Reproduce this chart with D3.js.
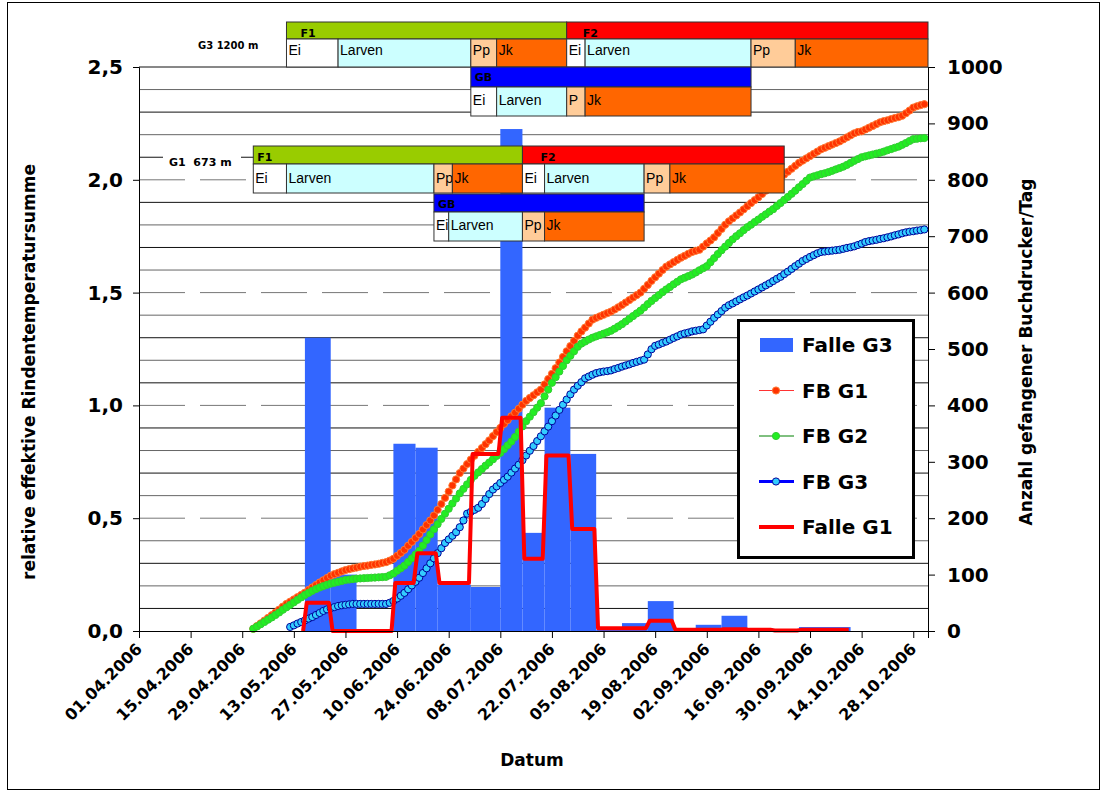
<!DOCTYPE html>
<html>
<head>
<meta charset="utf-8">
<script src="https://cdn.jsdelivr.net/npm/d3@7"></script>
<style>
  body { margin: 0; background: #fff; }
</style>
</head>
<body>
<svg width="1108" height="793"></svg>
<script>
const parseDate = d3.timeParse("%d.%m.%Y");
const fmtDate = d3.timeFormat("%d.%m.%Y");

// x axis tick labels (every 14 days)
const xTickLabels = ["01.04.2006", "15.04.2006", "29.04.2006", "13.05.2006", "27.05.2006", "10.06.2006",
  "24.06.2006", "08.07.2006", "22.07.2006", "05.08.2006", "19.08.2006", "02.09.2006",
  "16.09.2006", "30.09.2006", "14.10.2006", "28.10.2006"];
const leftTicks = [0, 0.5, 1, 1.5, 2, 2.5];
const rightTicks = [0, 100, 200, 300, 400, 500, 600, 700, 800, 900, 1000];

// trap emptying dates (interval borders) and catches per day
const trapDates = ["16.05.2006", "23.05.2006", "30.05.2006", "09.06.2006", "15.06.2006", "21.06.2006",
  "30.06.2006", "08.07.2006", "14.07.2006", "20.07.2006", "27.07.2006", "03.08.2006", "10.08.2006",
  "17.08.2006", "24.08.2006", "30.08.2006", "06.09.2006", "13.09.2006", "20.09.2006", "27.09.2006", "11.10.2006"];
const falleG3 = [520, 100, 0, 332, 325, 82, 78, 890, 174, 396, 314, 2, 14, 53, 5, 11, 27, 5, 1, 7];
const falleG1 = [50, 0, 0, 85, 138, 85, 314, 378, 128, 311, 181, 5, 5, 18, 2, 2, 3, 2, 1, 2];

// daily relative effective bark temperature sums
const fbStartG1 = "02.05.2006";
const fbG1 = [0.010, 0.022, 0.034, 0.046, 0.058, 0.070, 0.082, 0.095, 0.108, 0.120,
  0.130, 0.140, 0.150, 0.160, 0.170, 0.182, 0.193, 0.204, 0.215, 0.225,
  0.235, 0.245, 0.252, 0.258, 0.264, 0.270, 0.274, 0.278, 0.281, 0.285,
  0.288, 0.290, 0.293, 0.295, 0.298, 0.302, 0.305, 0.312, 0.320, 0.333,
  0.346, 0.360, 0.378, 0.395, 0.412, 0.430, 0.450, 0.470, 0.490, 0.512,
  0.537, 0.563, 0.590, 0.618, 0.645, 0.672, 0.700, 0.720, 0.740, 0.760,
  0.777, 0.794, 0.811, 0.828, 0.845, 0.864, 0.882, 0.900, 0.918, 0.935,
  0.952, 0.968, 0.985, 1.003, 1.020, 1.033, 1.045, 1.058, 1.070, 1.093,
  1.117, 1.140, 1.165, 1.190, 1.215, 1.240, 1.263, 1.286, 1.309, 1.328,
  1.345, 1.363, 1.380, 1.388, 1.395, 1.402, 1.409, 1.416, 1.425, 1.435,
  1.445, 1.456, 1.467, 1.478, 1.489, 1.500, 1.517, 1.534, 1.552, 1.568,
  1.584, 1.600, 1.615, 1.625, 1.635, 1.645, 1.655, 1.663, 1.672, 1.680,
  1.685, 1.690, 1.704, 1.718, 1.731, 1.745, 1.764, 1.782, 1.801, 1.816,
  1.829, 1.842, 1.855, 1.869, 1.883, 1.897, 1.910, 1.923, 1.937, 1.952,
  1.966, 1.981, 1.996, 2.010, 2.023, 2.036, 2.049, 2.062, 2.075, 2.085,
  2.095, 2.105, 2.115, 2.125, 2.135, 2.142, 2.149, 2.156, 2.163, 2.170,
  2.179, 2.188, 2.197, 2.206, 2.212, 2.215, 2.223, 2.231, 2.239, 2.247,
  2.255, 2.260, 2.264, 2.269, 2.274, 2.278, 2.284, 2.295, 2.307, 2.320,
  2.326, 2.331, 2.335];
const fbStartG2 = "02.05.2006";
const fbG2 = [0.010, 0.020, 0.030, 0.040, 0.050, 0.060, 0.071, 0.082, 0.094, 0.105,
  0.116, 0.127, 0.138, 0.149, 0.160, 0.169, 0.178, 0.186, 0.193, 0.199,
  0.205, 0.210, 0.214, 0.218, 0.222, 0.226, 0.228, 0.230, 0.232, 0.233,
  0.234, 0.235, 0.236, 0.237, 0.238, 0.239, 0.240, 0.247, 0.255, 0.267,
  0.278, 0.290, 0.306, 0.322, 0.339, 0.355, 0.379, 0.403, 0.428, 0.451,
  0.474, 0.497, 0.520, 0.542, 0.565, 0.587, 0.610, 0.630, 0.650, 0.670,
  0.688, 0.703, 0.718, 0.733, 0.747, 0.761, 0.776, 0.790, 0.806, 0.823,
  0.840, 0.860, 0.883, 0.907, 0.930, 0.950, 0.970, 0.990, 1.010, 1.040,
  1.070, 1.100, 1.125, 1.150, 1.175, 1.200, 1.220, 1.240, 1.260, 1.274,
  1.283, 1.292, 1.300, 1.306, 1.312, 1.318, 1.324, 1.331, 1.340, 1.350,
  1.360, 1.372, 1.384, 1.396, 1.408, 1.420, 1.434, 1.449, 1.463, 1.476,
  1.489, 1.502, 1.514, 1.525, 1.537, 1.548, 1.559, 1.566, 1.573, 1.580,
  1.589, 1.599, 1.608, 1.617, 1.635, 1.653, 1.671, 1.688, 1.704, 1.720,
  1.736, 1.750, 1.763, 1.777, 1.790, 1.801, 1.813, 1.824, 1.836, 1.847,
  1.859, 1.870, 1.884, 1.897, 1.911, 1.924, 1.938, 1.952, 1.967, 1.981,
  1.996, 2.010, 2.015, 2.020, 2.025, 2.029, 2.034, 2.040, 2.046, 2.052,
  2.058, 2.066, 2.075, 2.084, 2.092, 2.100, 2.104, 2.108, 2.112, 2.116,
  2.120, 2.125, 2.131, 2.136, 2.142, 2.147, 2.155, 2.163, 2.172, 2.180,
  2.182, 2.184, 2.185];
const fbStartG3 = "12.05.2006";
const fbG3 = [0.018, 0.025, 0.033, 0.040, 0.047, 0.055, 0.062, 0.071, 0.080, 0.089,
  0.096, 0.101, 0.106, 0.111, 0.114, 0.116, 0.118, 0.120, 0.120, 0.120,
  0.120, 0.120, 0.120, 0.120, 0.120, 0.120, 0.120, 0.125, 0.133, 0.144,
  0.156, 0.169, 0.185, 0.202, 0.218, 0.236, 0.257, 0.278, 0.300, 0.322,
  0.345, 0.367, 0.390, 0.406, 0.422, 0.438, 0.460, 0.490, 0.520, 0.528,
  0.537, 0.546, 0.563, 0.585, 0.607, 0.627, 0.641, 0.656, 0.670, 0.684,
  0.702, 0.720, 0.737, 0.757, 0.778, 0.799, 0.820, 0.842, 0.863, 0.885,
  0.906, 0.930, 0.955, 0.980, 1.003, 1.026, 1.049, 1.070, 1.087, 1.103,
  1.120, 1.128, 1.136, 1.143, 1.147, 1.150, 1.152, 1.155, 1.161, 1.166,
  1.172, 1.177, 1.182, 1.188, 1.193, 1.198, 1.203, 1.226, 1.249, 1.264,
  1.270, 1.277, 1.283, 1.291, 1.299, 1.306, 1.314, 1.319, 1.323, 1.328,
  1.331, 1.334, 1.337, 1.354, 1.371, 1.388, 1.403, 1.418, 1.433, 1.444,
  1.452, 1.461, 1.470, 1.479, 1.487, 1.496, 1.505, 1.514, 1.523, 1.532,
  1.541, 1.551, 1.561, 1.570, 1.582, 1.593, 1.605, 1.617, 1.628, 1.640,
  1.649, 1.658, 1.666, 1.674, 1.680, 1.682, 1.684, 1.686, 1.688, 1.690,
  1.694, 1.698, 1.701, 1.705, 1.711, 1.717, 1.724, 1.728, 1.731, 1.734,
  1.738, 1.741, 1.745, 1.749, 1.754, 1.758, 1.763, 1.767, 1.770, 1.772,
  1.775, 1.777, 1.780];

// development phases [label, from, to]
const g3F1 = [["Ei", "11.05.2006", "25.05.2006"], ["Larven", "25.05.2006", "30.06.2006"], ["Pp", "30.06.2006", "07.07.2006"], ["Jk", "07.07.2006", "26.07.2006"]];
const g3F2 = [["Ei", "26.07.2006", "31.07.2006"], ["Larven", "31.07.2006", "14.09.2006"], ["Pp", "14.09.2006", "26.09.2006"], ["Jk", "26.09.2006", "01.11.2006"]];
const g3GB = [["Ei", "30.06.2006", "07.07.2006"], ["Larven", "07.07.2006", "26.07.2006"], ["P", "26.07.2006", "31.07.2006"], ["Jk", "31.07.2006", "14.09.2006"]];
const g1F1 = [["Ei", "02.05.2006", "11.05.2006"], ["Larven", "11.05.2006", "20.06.2006"], ["Pp", "20.06.2006", "25.06.2006"], ["Jk", "25.06.2006", "14.07.2006"]];
const g1F2 = [["Ei", "14.07.2006", "20.07.2006"], ["Larven", "20.07.2006", "16.08.2006"], ["Pp", "16.08.2006", "23.08.2006"], ["Jk", "23.08.2006", "23.09.2006"]];
const g1GB = [["Ei", "20.06.2006", "24.06.2006"], ["Larven", "24.06.2006", "14.07.2006"], ["Pp", "14.07.2006", "20.07.2006"], ["Jk", "20.07.2006", "16.08.2006"]];
const phaseColors = { "Ei": "#ffffff", "Larven": "#ccffff", "Pp": "#ffcc99", "P": "#ffcc99", "Jk": "#ff6600" };

const svg = d3.select("svg");
const plotLeft = 139, plotRight = 928, plotTop = 67, plotBottom = 631;
const boldFont = "DejaVu Sans";

const x = d3.scaleTime()
  .domain([parseDate("01.04.2006"), parseDate("01.11.2006")])
  .range([plotLeft, plotRight]);
const yL = d3.scaleLinear().domain([0, 2.5]).range([plotBottom, plotTop]);
const yR = d3.scaleLinear().domain([0, 1000]).range([plotBottom, plotTop]);

// outer frame
svg.append("rect")
  .attr("x", 7.5).attr("y", 2.5)
  .attr("width", 1092).attr("height", 787)
  .attr("fill", "none").attr("stroke", "#000");

// gridlines every 0.1, dashed every 0.5
d3.range(1, 26).forEach(i => {
  const dashed = i % 5 === 0 && i < 25;
  svg.append("line")
    .attr("x1", plotLeft).attr("x2", plotRight)
    .attr("y1", yL(i / 10)).attr("y2", yL(i / 10))
    .attr("stroke", dashed ? "#777" : (i % 2 ? "#111" : "#666"))
    .attr("stroke-width", 1)
    .attr("stroke-dasharray", dashed ? "46,15" : null);
});

// Falle G3 bars
const bars = falleG3.map((v, i) => ({ v: v, a: parseDate(trapDates[i]), b: parseDate(trapDates[i + 1]) }));
svg.selectAll(".bar")
  .data(bars.filter(d => d.v > 0))
  .join("rect")
  .attr("class", "bar")
  .attr("x", d => x(d.a))
  .attr("width", d => x(d.b) - x(d.a))
  .attr("y", d => yR(d.v))
  .attr("height", d => yR(0) - yR(d.v))
  .attr("fill", "#3366ff");

// FB curves
function drawFB(start, values, lineColor, lineWidth, fill, stroke) {
  const s = parseDate(start);
  const pts = values.map((v, i) => ({ date: d3.timeDay.offset(s, i), v: v }));
  svg.append("path")
    .datum(pts)
    .attr("d", d3.line().x(d => x(d.date)).y(d => yL(d.v)))
    .style("fill", "none")
    .style("stroke", lineColor)
    .style("stroke-width", lineWidth);
  svg.append("g")
    .selectAll("circle")
    .data(pts)
    .join("circle")
    .attr("cx", d => x(d.date))
    .attr("cy", d => yL(d.v))
    .attr("r", 3.6)
    .attr("fill", fill)
    .attr("stroke", stroke)
    .attr("stroke-width", 1);
}
drawFB(fbStartG1, fbG1, "#ff0000", 1, "#ff3300", "#ff7a33");
drawFB(fbStartG2, fbG2, "#008000", 1, "#22ee22", "#33cc33");
drawFB(fbStartG3, fbG3, "#0000ff", 3, "#33ccff", "#000099");

// Falle G1 step line
const stepPts = [[d3.timeHour.offset(parseDate(trapDates[0]), -12), 0]];
falleG1.forEach((v, i) => {
  stepPts.push([d3.timeHour.offset(parseDate(trapDates[i]), 12), v]);
  stepPts.push([d3.timeHour.offset(parseDate(trapDates[i + 1]), -12), v]);
});
svg.append("path")
  .datum(stepPts)
  .attr("d", d3.line().x(d => x(d[0])).y(d => yR(d[1])))
  .style("fill", "none")
  .style("stroke", "#ff0000")
  .style("stroke-width", 4)
  .style("stroke-linejoin", "round");

// axes
const leftAxis = svg.append("g")
  .attr("transform", `translate(${plotLeft},0)`)
  .call(d3.axisLeft(yL).tickValues(leftTicks).tickSize(6).tickPadding(10)
    .tickFormat(d => d3.format(".1f")(d).replace(".", ",")));
const rightAxis = svg.append("g")
  .attr("transform", `translate(${plotRight},0)`)
  .call(d3.axisRight(yR).tickValues(rightTicks).tickSize(7).tickPadding(12).tickFormat(d3.format("d")));
const bottomAxis = svg.append("g")
  .attr("transform", `translate(0,${plotBottom})`)
  .call(d3.axisBottom(x).tickValues(xTickLabels.map(parseDate)).tickSize(7).tickFormat(fmtDate));

[leftAxis, rightAxis, bottomAxis].forEach(g => {
  g.selectAll("path, line").attr("stroke", "#000");
  g.selectAll("text")
    .style("font-family", boldFont)
    .style("font-weight", "bold")
    .style("font-size", "20px")
    .attr("fill", "#000");
});
bottomAxis.selectAll("text")
  .style("font-size", "16px")
  .attr("text-anchor", "end")
  .attr("x", -11).attr("y", 16).attr("dy", 0)
  .attr("transform", "rotate(-45)");

// axis titles
svg.append("text")
  .text("relative effektive Rindentemperatursumme")
  .attr("transform", "translate(35,372) rotate(-90)")
  .attr("text-anchor", "middle")
  .style("font-family", boldFont).style("font-weight", "bold").style("font-size", "17px");
svg.append("text")
  .text("Anzahl gefangener Buchdrucker/Tag")
  .attr("transform", "translate(1032,352) rotate(-90)")
  .attr("text-anchor", "middle")
  .style("font-family", boldFont).style("font-weight", "bold").style("font-size", "17px");
svg.append("text")
  .text("Datum")
  .attr("x", 532).attr("y", 766)
  .attr("text-anchor", "middle")
  .style("font-family", boldFont).style("font-weight", "bold").style("font-size", "17px");

// phase boxes
function header(label, from, to, y0, h, color, dx, base) {
  const x0 = x(parseDate(from)), x1 = Math.min(x(parseDate(to)), plotRight + 2);
  svg.append("rect")
    .attr("x", x0).attr("y", y0).attr("width", x1 - x0).attr("height", h)
    .attr("fill", color).attr("stroke", "#333").attr("stroke-width", 1);
  svg.append("text").text(label)
    .attr("x", x0 + dx).attr("y", base)
    .style("font-family", boldFont).style("font-weight", "bold").style("font-size", "11px");
}
function phaseRow(list, y0, h, base) {
  list.forEach(p => {
    const x0 = x(parseDate(p[1])), x1 = Math.min(x(parseDate(p[2])), plotRight + 2);
    svg.append("rect")
      .attr("x", x0).attr("y", y0).attr("width", x1 - x0).attr("height", h)
      .attr("fill", phaseColors[p[0]]).attr("stroke", "#333").attr("stroke-width", 1);
    svg.append("text").text(p[0])
      .attr("x", x0 + 2).attr("y", base)
      .style("font-family", "Liberation Sans").style("font-size", "14px");
  });
}

// G1 673 m
header("F1", g1F1[0][1], g1F1[3][2], 146, 18, "#99cc00", 4, 161);
header("F2", g1F2[0][1], g1F2[3][2], 146, 18, "#ff0000", 18, 161);
phaseRow(g1F1, 164, 29, 183);
phaseRow(g1F2, 164, 29, 183);
header("GB", g1GB[0][1], g1GB[3][2], 194, 18, "#0000ff", 4, 208);
phaseRow(g1GB, 212, 29, 230);

// G3 1200 m
header("F1", g3F1[0][1], g3F1[3][2], 22, 17, "#99cc00", 14, 37);
header("F2", g3F2[0][1], g3F2[3][2], 22, 17, "#ff0000", 16, 37);
phaseRow(g3F1, 39, 28, 55);
phaseRow(g3F2, 39, 28, 55);
header("GB", g3GB[0][1], g3GB[3][2], 67, 20, "#0000ff", 4, 81);
phaseRow(g3GB, 87, 29, 105);

// group labels
svg.append("text").text("G3 1200 m")
  .attr("x", 198).attr("y", 49)
  .style("font-family", boldFont).style("font-weight", "bold").style("font-size", "10px");
svg.append("rect").attr("x", 163).attr("y", 150).attr("width", 78).attr("height", 20).attr("fill", "#fff");
svg.append("text").text("G1  673 m")
  .attr("x", 169).attr("y", 166)
  .style("white-space", "pre")
  .style("font-family", boldFont).style("font-weight", "bold").style("font-size", "11px");

// legend
const legend = svg.append("g");
legend.append("rect")
  .attr("x", 738.5).attr("y", 320.5).attr("width", 175).attr("height", 237)
  .attr("fill", "#fff").attr("stroke", "#000").attr("stroke-width", 3);
const legendItems = [
  { name: "Falle G3", type: "bar" },
  { name: "FB G1", type: "dot", line: "#ff3333", lw: 1, fill: "#ff3300", stroke: "#ff7a33" },
  { name: "FB G2", type: "dot", line: "#008000", lw: 1, fill: "#22ee22", stroke: "#33cc33" },
  { name: "FB G3", type: "dot", line: "#0000ff", lw: 3, fill: "#33ccff", stroke: "#000099" },
  { name: "Falle G1", type: "line", line: "#ff0000", lw: 4 }
];
legendItems.forEach((d, i) => {
  const cy = 345 + i * 45.5;
  if (d.type === "bar") {
    legend.append("rect").attr("x", 760).attr("y", cy - 7).attr("width", 33).attr("height", 14).attr("fill", "#3366ff");
  } else {
    legend.append("line").attr("x1", 759).attr("x2", 794).attr("y1", cy).attr("y2", cy)
      .attr("stroke", d.line).attr("stroke-width", d.lw);
    if (d.type === "dot") {
      legend.append("circle").attr("cx", 776).attr("cy", cy).attr("r", 3.6)
        .attr("fill", d.fill).attr("stroke", d.stroke);
    }
  }
  legend.append("text").text(d.name)
    .attr("x", 802).attr("y", cy).attr("dy", "0.36em")
    .style("font-family", boldFont).style("font-weight", "bold").style("font-size", "20px");
});
</script>
</body>
</html>
